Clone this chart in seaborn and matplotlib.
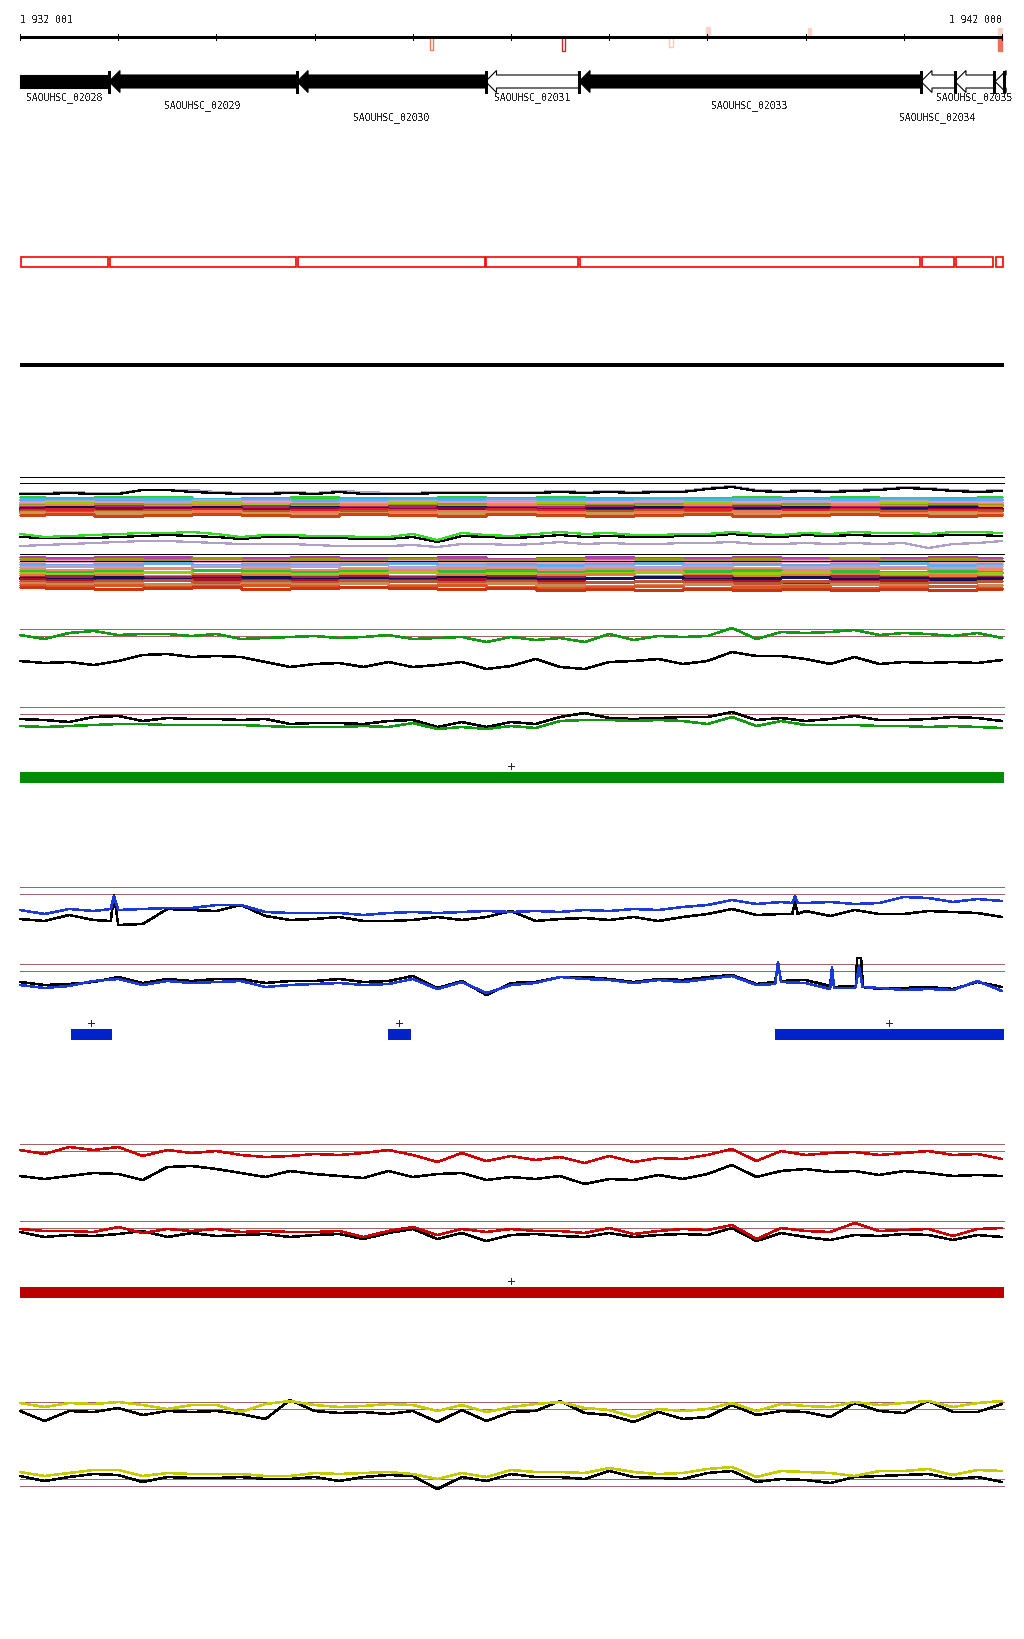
import numpy as np
import pandas as pd
import matplotlib.pyplot as plt
from matplotlib.patches import Polygon, Rectangle
import seaborn as sns

sns.set_style('white')
plt.rcParams['font.family'] = ['DejaVu Sans Mono', 'DejaVu Sans']
plt.rcParams['lines.antialiased'] = False
plt.rcParams['text.antialiased'] = False

# ------------------------------------------------------------------
# window + sampling grids
# ------------------------------------------------------------------
START, END = 1932001, 1942000
GRID = np.linspace(START, END, 41)        # coverage traces
BAND_GRID = np.linspace(START, END, 21)   # stacked sample lines

# ruler
RULER_TICKS = [1932000 + 1000 * k for k in range(11)]
RULER_LABELS = ['1 932 001', '1 942 000']

# small features on the ruler (score > 0 above line, < 0 below)
MARK_POS = [1936186, 1937530, 1938629, 1939006, 1940035, 1941979, 1941979]
MARK_SCORE = [-13, -14, -10, 10, 9, 9, -14]
MARK_COLOR = ['#f07860', '#c82828', '#f5c8c0', '#f8d4cc', '#f8d4cc', '#f8d4cc', '#f07055']
MARK_FILLED = [False, False, False, True, True, True, True]

# genes (all on minus strand)
GENE_NAMES = ['SAOUHSC_02028', 'SAOUHSC_02029', 'SAOUHSC_02030', 'SAOUHSC_02031',
              'SAOUHSC_02033', 'SAOUHSC_02034', 'SAOUHSC_02035', '']
GENE_START = [1931500, 1932907, 1934822, 1936741, 1937693, 1941175, 1941521, 1941930]
GENE_END = [1932907, 1934822, 1936741, 1937693, 1941175, 1941521, 1941918, 1942400]
GENE_FILLED = [True, True, True, False, True, False, False, False]
GENE_ROW = [0, 1, 2, 0, 1, 2, 0, 0]

# ------------------------------------------------------------------
# stacked per-sample lines (depth below the reference line)
# ------------------------------------------------------------------
BAND1_TOP_BLACK = [-11, -11, -10, -11, -11, -7, -7, -9, -10, -11, -11, -10, -11, -9, -11, -11, -11, -10, -10, -10, -10,
                   -10, -9, -10, -9, -10, -9, -9, -6, -4, -8, -9, -8, -9, -8, -7, -5, -6, -8, -9, -8]
BAND1_TOP_LAV = [-10, -10, -9, -10, -10, -7, -7, -7, -9, -10, -10, -9, -10, -8, -9, -10, -10, -9, -9, -9, -9,
                 -9, -8, -9, -8, -9, -8, -8, -5, -3, -7, -8, -7, -8, -7, -6, -4, -5, -7, -8, -7]

BAND1 = [
    [14, 15, 14, 14, 16, 15, 14, 15, 15, 14, 15, 14, 15, 16, 15, 14, 15, 14, 15, 15, 14],
    [16, 16, 17, 15, 16, 17, 17, 16, 15, 16, 17, 16, 16, 15, 16, 17, 16, 16, 15, 16, 17],
    [17, 18, 16, 17, 18, 16, 18, 17, 17, 18, 16, 17, 18, 17, 17, 16, 18, 17, 17, 18, 16],
    [19, 18, 19, 19, 17, 18, 20, 19, 18, 19, 18, 19, 19, 18, 19, 20, 18, 19, 18, 19, 19],
    [20, 21, 20, 21, 20, 19, 21, 20, 21, 20, 20, 21, 20, 21, 20, 19, 21, 20, 21, 20, 20],
    [21, 20, 22, 21, 19, 21, 22, 21, 20, 22, 21, 20, 21, 22, 20, 21, 22, 21, 20, 22, 21],
    [22, 23, 21, 22, 22, 23, 21, 23, 22, 21, 23, 22, 22, 21, 23, 22, 21, 23, 22, 21, 22],
    [23, 22, 24, 23, 22, 24, 23, 22, 24, 23, 22, 23, 24, 23, 22, 24, 23, 22, 23, 24, 23],
    [24, 25, 23, 24, 25, 23, 25, 24, 23, 25, 24, 24, 23, 25, 24, 23, 25, 24, 24, 23, 25],
    [25, 24, 26, 25, 24, 26, 24, 25, 26, 24, 25, 26, 25, 24, 26, 25, 24, 26, 25, 24, 25],
    [26, 27, 25, 26, 27, 26, 25, 27, 26, 25, 27, 26, 27, 26, 25, 27, 26, 25, 27, 26, 26],
    [27, 26, 28, 27, 26, 28, 27, 26, 27, 28, 26, 27, 28, 27, 26, 28, 27, 26, 28, 27, 27],
    [28, 29, 28, 27, 29, 28, 29, 28, 27, 29, 28, 29, 28, 27, 29, 28, 29, 27, 28, 29, 28],
    [29, 30, 29, 30, 28, 30, 29, 30, 29, 28, 30, 29, 30, 29, 30, 28, 30, 29, 30, 29, 30],
    [30, 31, 30, 29, 31, 30, 31, 30, 31, 30, 29, 31, 30, 31, 30, 31, 29, 30, 31, 30, 31],
    [32, 31, 33, 32, 31, 32, 33, 31, 32, 33, 31, 32, 33, 32, 31, 33, 32, 31, 32, 33, 32],
]
BAND1_COLORS = ['#33cc33', '#33bbdd', '#66aaee', '#b8a0d0', '#ee99bb', '#99cc00', '#999900', '#ee8833',
                '#aa2288', '#111166', '#990033', '#dd2222', '#bb5522', '#ee7755', '#cc9955', '#cc4411']

MID_GREEN = [20, 17, 18, 19, 20, 21, 21, 22, 20, 17, 19, 19, 18, 18, 17, 17, 20, 14, 21, 19, 18,
             20, 22, 20, 21, 19, 19, 20, 20, 22, 20, 19, 21, 20, 22, 21, 21, 20, 22, 22, 21]
MID_BLACK = [17, 16, 16, 16, 17, 18, 19, 18, 17, 15, 17, 17, 16, 16, 15, 15, 17, 12, 18, 17, 16,
             17, 19, 17, 18, 17, 17, 18, 18, 20, 18, 17, 19, 18, 19, 18, 18, 18, 19, 19, 18]
MID_LAV = [8, 9, 10, 11, 12, 13, 13, 12, 11, 10, 10, 10, 9, 8, 8, 8, 9, 7, 10, 10, 9,
           10, 12, 10, 11, 10, 10, 11, 11, 12, 10, 10, 11, 10, 11, 10, 11, 6, 10, 11, 13]

BAND2 = [
    [3, 4, 3, 3, 5, 4, 3, 4, 4, 3, 5, 4, 3, 4, 4, 3, 4, 5, 4, 3, 4],
    [5, 6, 5, 6, 4, 6, 5, 6, 5, 6, 6, 5, 6, 5, 6, 5, 6, 4, 6, 5, 6],
    [8, 7, 9, 8, 7, 8, 9, 8, 7, 8, 9, 8, 7, 8, 9, 8, 7, 8, 9, 8, 8],
    [10, 11, 10, 9, 11, 10, 11, 10, 9, 11, 10, 11, 10, 9, 11, 10, 11, 10, 9, 11, 10],
    [13, 12, 13, 14, 12, 13, 12, 14, 13, 12, 13, 14, 12, 13, 12, 14, 13, 12, 13, 14, 12],
    [15, 16, 15, 14, 16, 15, 16, 15, 16, 14, 15, 16, 15, 16, 14, 15, 16, 15, 14, 16, 15],
    [17, 18, 17, 18, 16, 17, 18, 17, 18, 17, 16, 18, 17, 18, 17, 16, 18, 17, 18, 17, 18],
    [19, 20, 19, 18, 20, 19, 20, 19, 18, 20, 19, 20, 19, 18, 20, 19, 18, 20, 19, 20, 19],
    [21, 22, 21, 22, 20, 21, 22, 21, 22, 21, 22, 21, 20, 22, 21, 22, 21, 20, 22, 21, 22],
    [23, 22, 24, 23, 22, 24, 23, 22, 23, 24, 22, 23, 24, 23, 22, 24, 23, 22, 23, 24, 23],
    [24, 25, 23, 25, 24, 23, 25, 24, 25, 23, 24, 25, 24, 23, 25, 24, 23, 25, 24, 25, 24],
    [25, 26, 27, 26, 25, 27, 26, 27, 26, 25, 26, 27, 28, 27, 26, 27, 28, 27, 26, 28, 27],
    [27, 28, 27, 26, 28, 27, 28, 26, 27, 28, 27, 29, 28, 27, 28, 29, 27, 28, 29, 28, 27],
    [29, 30, 29, 30, 31, 29, 30, 29, 31, 30, 29, 31, 32, 31, 30, 32, 31, 30, 31, 32, 31],
    [31, 32, 31, 33, 32, 31, 32, 33, 32, 31, 33, 34, 33, 32, 34, 33, 32, 34, 33, 32, 34],
    [33, 34, 35, 34, 33, 35, 34, 33, 34, 35, 34, 36, 35, 36, 35, 36, 35, 36, 35, 36, 35],
]
BAND2_COLORS = ['#aa44aa', '#999900', '#ee99bb', '#66aaee', '#b8a0d0', '#ee8866', '#33bb33', '#99cc11',
                '#ee7733', '#992255', '#111155', '#aa1122', '#bb5533', '#cc8855', '#dd5522', '#cc3311']

# ------------------------------------------------------------------
# coverage tracks (value above the lower threshold line)
# ------------------------------------------------------------------
GREEN_HI_COL = [1, -3, 3, 5, 1, 2, 2, 0, 2, -3, -2, -1, 0, -2, -1, 1, -3, -2, -1, -6, -1,
                -4, -2, -6, 2, -4, 0, -1, 0, 8, -3, 4, 3, 4, 6, 1, 3, 2, 0, 3, -2]
GREEN_HI_BLK = [-25, -27, -26, -29, -25, -19, -18, -21, -20, -21, -26, -31, -28, -27, -31, -26, -31, -29, -26, -33, -30,
                -23, -31, -33, -26, -25, -23, -28, -25, -16, -20, -20, -23, -28, -21, -28, -26, -27, -26, -27, -24]
GREEN_LO_COL = [-12, -13, -12, -11, -10, -10, -11, -11, -11, -11, -12, -13, -13, -13, -12, -13, -9, -15, -13, -15, -12,
                -14, -7, -6, -6, -7, -6, -7, -10, -3, -12, -7, -11, -11, -11, -12, -12, -13, -12, -13, -14]
GREEN_LO_BLK = [-5, -6, -8, -3, -2, -7, -4, -5, -5, -6, -5, -10, -9, -9, -10, -7, -6, -13, -8, -13, -8,
                -10, -3, 1, -4, -5, -4, -3, -3, 2, -6, -4, -7, -5, -2, -6, -6, -5, -3, -4, -7]

BLUE_HI_COL = [-16, -20, -15, -17, -16, -15, -14, -14, -11, -11, -18, -19, -19, -19, -21, -19, -18, -19, -18, -17, -18,
               -17, -18, -16, -17, -15, -16, -13, -11, -6, -10, -8, -9, -8, -10, -9, -3, -4, -8, -5, -7]
BLUE_HI_BLK = [-25, -27, -21, -26, -31, -30, -15, -16, -17, -11, -22, -26, -25, -23, -27, -27, -26, -23, -26, -23, -17,
               -27, -25, -24, -26, -23, -27, -23, -20, -15, -21, -20, -17, -22, -16, -20, -20, -17, -18, -19, -23]
BLUE_HI_COL_PX = [1932925, 1932958, 1939865, 1939892, 1939920]
BLUE_HI_COL_PY = [-15, -2, -9, -2, -9]
BLUE_HI_BLK_PX = [1932925, 1932958, 1939865, 1939892, 1939920]
BLUE_HI_BLK_PY = [-27, -1, -20, -8, -20]

BLUE_LO_COL = [-14, -17, -15, -10, -8, -14, -10, -12, -11, -10, -16, -14, -13, -12, -14, -13, -8, -18, -11, -22, -14,
               -12, -6, -8, -9, -12, -9, -11, -8, -5, -14, -11, -12, -18, -17, -17, -19, -18, -19, -10, -20]
BLUE_LO_BLK = [-11, -14, -13, -11, -6, -12, -8, -10, -8, -8, -12, -10, -10, -8, -11, -10, -5, -17, -10, -24, -12,
               -11, -6, -6, -8, -11, -8, -9, -6, -4, -13, -10, -9, -15, -15, -18, -17, -16, -18, -11, -16]
BLUE_LO_COL_PX = [1939690, 1939719, 1940269, 1940290, 1940510, 1940544, 1940580]
BLUE_LO_COL_PY = [-13, 9, 4, -17, -16, 5, -16]
BLUE_LO_BLK_PX = [1939690, 1939719, 1940269, 1940290, 1940510, 1940525, 1940565, 1940585]
BLUE_LO_BLK_PY = [-11, 8, 4, -16, -16, 13, 13, -16]

RED_HI_COL = [1, -3, 4, 1, 4, -5, 1, -2, 0, -4, -6, -5, -3, -4, -2, 1, -4, -11, -2, -10, -5,
              -9, -6, -12, -5, -11, -7, -8, -4, 2, -10, 0, -4, -2, -1, -4, -2, 0, -4, -3, -8]
RED_HI_BLK = [-25, -28, -25, -22, -23, -29, -16, -15, -18, -22, -26, -20, -23, -25, -27, -20, -26, -23, -22, -29, -26,
              -28, -25, -33, -28, -29, -24, -28, -23, -14, -26, -20, -18, -21, -20, -24, -20, -22, -25, -24, -25]
RED_LO_COL = [-1, -3, -3, -4, 1, -5, -1, -3, -1, -4, -3, -4, -4, -3, -9, -3, 1, -7, -1, -4, -1,
              -3, -3, -5, 0, -6, -3, -1, -2, 3, -11, 0, -3, -4, 5, -3, -2, -1, -8, -1, 0]
RED_LO_BLK = [-4, -9, -7, -8, -6, -3, -9, -5, -8, -7, -6, -9, -7, -6, -11, -5, -1, -11, -5, -13, -7,
              -6, -8, -9, -5, -9, -7, -6, -7, 0, -13, -5, -9, -12, -7, -8, -6, -7, -12, -7, -9]

YEL_HI_COL = [6, 2, 6, 5, 7, 4, 0, 4, 4, -3, 5, 8, 4, 2, 3, 5, 4, -2, 4, -3, 2,
              5, 7, 1, -1, -8, 0, -2, 0, 6, -2, 5, 3, 2, 7, 4, 6, 8, 2, 6, 8]
YEL_HI_BLK = [-2, -12, -2, -3, 1, -6, -2, -3, -2, -5, -10, 9, -2, -4, -3, -5, -2, -13, -1, -12, -3,
              -2, 8, -4, -6, -13, -3, -10, -8, 4, -6, -2, -3, -8, 6, -2, -4, 8, -3, -3, 5]
YEL_LO_COL = [14, 10, 13, 16, 16, 10, 13, 12, 12, 12, 10, 10, 13, 12, 13, 14, 12, 7, 13, 9, 16,
              14, 14, 13, 18, 14, 12, 13, 17, 19, 9, 15, 14, 13, 10, 15, 15, 17, 11, 16, 15]
YEL_LO_BLK = [10, 5, 9, 12, 11, 4, 9, 8, 8, 9, 7, 7, 9, 5, 9, 11, 10, -3, 9, 5, 12,
              9, 9, 7, 15, 9, 8, 7, 13, 15, 4, 7, 6, 3, 9, 10, 11, 12, 7, 9, 4]

THRESHOLDS = [0, 7]

# feature bars under the tracks
GREEN_BARS = [(START, END)]
BLUE_BARS = [(1932521, 1932938), (1935747, 1935981), (1939693, 1942000)]
RED_BARS = [(START, END)]

# ------------------------------------------------------------------
# layout (pixel rows of a 1024 x 1640 canvas)
# ------------------------------------------------------------------
BP_PER_PX = (END - START) / 982.0
X0 = START - 20 * BP_PER_PX
X1 = X0 + 1024 * BP_PER_PX
XR = END + 2 * BP_PER_PX

fig = plt.figure(figsize=(10.24, 16.40), dpi=100)
ax = fig.add_axes([0, 0, 1, 1])
ax.set_xlim(X0, X1)
ax.set_ylim(1640, 0)
ax.axis('off')

BROWN = '#a06464'
FS = 7


def trace(vals, ref, color, lw=0.8, grid=GRID, xs=None, ys=None, down=False, **kw):
    df = pd.DataFrame({'pos': list(grid), 'v': list(vals)})
    if xs is not None:
        df = pd.concat([df, pd.DataFrame({'pos': xs, 'v': ys})]).sort_values('pos')
    df['y'] = ref + df['v'] if down else ref - df['v']
    sns.lineplot(data=df, x='pos', y='y', color=color, lw=lw, estimator=None,
                 ax=ax, legend=False, **kw)


# --- ruler ---
ax.hlines(38, START, END, color='black', lw=0.9)
ax.vlines(RULER_TICKS, 35, 41, color='black', lw=0.7)
ax.text(START, 20, RULER_LABELS[0], ha='left', va='center', fontsize=FS)
ax.text(END, 20, RULER_LABELS[1], ha='right', va='center', fontsize=FS)
for p, s, c, f in zip(MARK_POS, MARK_SCORE, MARK_COLOR, MARK_FILLED):
    ax.add_patch(Rectangle((p - 15, 38), 32, -s, facecolor=c if f else 'none',
                           edgecolor=c, lw=1.0))

# --- genes ---
HEAD = 112
ROW_Y = [98, 106, 118]
for name, s, e, filled, row in zip(GENE_NAMES, GENE_START, GENE_END, GENE_FILLED, GENE_ROW):
    e2 = min(e, XR)
    fc = 'black' if filled else 'white'
    yc = 82.5
    if s >= START:
        pts = [(s, yc), (s + HEAD, yc - 11), (s + HEAD, yc - 6.5), (e2, yc - 6.5),
               (e2, yc + 6.5), (s + HEAD, yc + 6.5), (s + HEAD, yc + 11)]
    else:
        pts = [(START, yc - 6.5), (e2, yc - 6.5), (e2, yc + 6.5), (START, yc + 6.5)]
    ax.add_patch(Polygon(pts, closed=True, facecolor=fc, edgecolor='black', lw=0.8))
    ax.vlines(e2, yc - 11, yc + 11, color='black', lw=0.8)
    if name:
        cx = (max(s, START) + e2) / 2
        ax.text(cx, ROW_Y[row], name, ha='center', va='center', fontsize=FS)
    # red outline row, one box per gene
    s2 = max(s, START)
    ax.add_patch(Rectangle((s2 + 8, 258), e2 - s2 - 16, 10,
                           facecolor='none', edgecolor='#ff0000', lw=1.2))

ax.hlines(366, START, XR, color='black', lw=1.5)

# --- stacked sample lines ---
ax.hlines([478, 484], START, XR, color='black', lw=0.7)
for vals, c in zip(BAND1, BAND1_COLORS):
    trace(vals, 484, c, lw=1.0, grid=BAND_GRID, down=True, drawstyle='steps-mid')
trace(BAND1_TOP_LAV, 484, '#b0a0c8', lw=0.9)
trace(BAND1_TOP_BLACK, 484, 'black', lw=0.9)

trace(MID_LAV, 555, '#b0a0c8', lw=0.9)
trace(MID_BLACK, 555, 'black', lw=0.9)
trace(MID_GREEN, 555, '#33dd22', lw=0.9)

for vals, c in zip(BAND2, BAND2_COLORS):
    trace(vals, 555, c, lw=1.0, grid=BAND_GRID, down=True, drawstyle='steps-mid')
ax.hlines([555, 562], START, XR, color='black', lw=0.7)


# --- coverage tracks ---
def panel(ref, col_vals, blk_vals, color, col_extra=(None, None), blk_extra=(None, None)):
    ax.hlines([ref - t for t in THRESHOLDS], START, XR, color=BROWN, lw=0.7)
    trace(blk_vals, ref, 'black', lw=1.1, xs=blk_extra[0], ys=blk_extra[1])
    trace(col_vals, ref, color, lw=1.1, xs=col_extra[0], ys=col_extra[1])


def bars(spans, y, color):
    for s, e in spans:
        e2 = XR if e >= END else e
        ax.add_patch(Rectangle((s, y), e2 - s, 11, facecolor=color, edgecolor='none'))
        ax.text((s + e2) / 2, y - 6, '+', ha='center', va='center', fontsize=10)


panel(637, GREEN_HI_COL, GREEN_HI_BLK, '#119911')
panel(715, GREEN_LO_COL, GREEN_LO_BLK, '#119911')
bars(GREEN_BARS, 773, '#008c00')

panel(895, BLUE_HI_COL, BLUE_HI_BLK, '#1a3ad8',
      (BLUE_HI_COL_PX, BLUE_HI_COL_PY), (BLUE_HI_BLK_PX, BLUE_HI_BLK_PY))
panel(972, BLUE_LO_COL, BLUE_LO_BLK, '#1a3ad8',
      (BLUE_LO_COL_PX, BLUE_LO_COL_PY), (BLUE_LO_BLK_PX, BLUE_LO_BLK_PY))
bars(BLUE_BARS, 1030, '#0022c8')

panel(1152, RED_HI_COL, RED_HI_BLK, '#cc0000')
panel(1229, RED_LO_COL, RED_LO_BLK, '#cc0000')
bars(RED_BARS, 1288, '#bb0000')

panel(1410, YEL_HI_COL, YEL_HI_BLK, '#c4cc00')
panel(1487, YEL_LO_COL, YEL_LO_BLK, '#c4cc00')

fig.savefig('out.png', dpi=100)
